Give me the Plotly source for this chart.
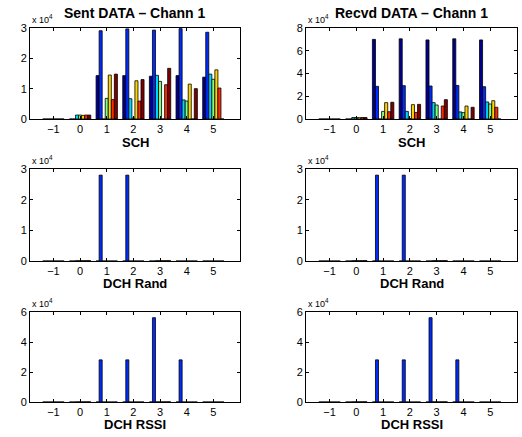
import plotly.graph_objects as go

# ---------------- data ----------------
groups = [-1, 0, 1, 2, 3, 4, 5]
tick_labels_x = ["\u22121", "0", "1", "2", "3", "4", "5"]

# seven series per panel (values in units of 1e4)
sent_sch = [
    [0, 0, 1.43, 1.43, 1.41, 1.43, 1.38],   # series 1
    [0, 0, 2.91, 2.97, 2.93, 2.98, 2.86],   # series 2
    [0, 0.13, 0, 0.67, 1.44, 0.63, 1.48],   # series 3
    [0, 0.13, 0.68, 0.03, 1.24, 0.59, 1.31],# series 4
    [0, 0.12, 1.45, 1.26, 0, 1.15, 1.62],   # series 5
    [0, 0.13, 0.64, 0.59, 1.13, 0, 1.02],   # series 6
    [0, 0.13, 1.48, 1.30, 1.67, 1.00, 0],   # series 7
]
recvd_sch = [
    [0, 0, 7.00, 7.05, 6.95, 7.05, 6.95],
    [0, 0, 2.87, 2.93, 2.90, 2.95, 2.84],
    [0, 0.13, 0, 0.67, 1.44, 0.62, 1.50],
    [0, 0.13, 0.67, 0.05, 1.23, 0.56, 1.32],
    [0, 0.12, 1.44, 1.26, 0, 1.14, 1.61],
    [0, 0.13, 0.64, 0.58, 1.14, 0, 1.03],
    [0, 0.13, 1.47, 1.29, 1.70, 1.03, 0],
]
sent_dch_rand = [
    [0, 0, 0, 0, 0, 0, 0],
    [0, 0, 2.80, 2.80, 0, 0, 0],
    [0, 0.01, 0, 0, 0.01, 0, 0],
    [0, 0.01, 0, 0, 0.01, 0, 0],
    [0, 0.01, 0, 0, 0.01, 0, 0],
    [0, 0.01, 0, 0, 0.01, 0, 0],
    [0, 0.01, 0, 0, 0.01, 0, 0],
]
recvd_dch_rand = [
    [0, 0, 0, 0, 0, 0, 0],
    [0, 0, 2.80, 2.80, 0, 0, 0],
    [0, 0.01, 0, 0, 0.01, 0, 0],
    [0, 0.01, 0, 0, 0.01, 0, 0],
    [0, 0.01, 0, 0, 0.01, 0, 0],
    [0, 0.01, 0, 0, 0.01, 0, 0],
    [0, 0.01, 0, 0, 0.01, 0, 0],
]
sent_dch_rssi = [
    [0, 0, 0, 0, 0, 0, 0],
    [0, 0, 2.81, 2.81, 5.62, 2.81, 0],
    [0, 0.01, 0, 0, 0.01, 0, 0],
    [0, 0.01, 0, 0, 0.01, 0, 0],
    [0, 0.01, 0, 0, 0.01, 0, 0],
    [0, 0.01, 0, 0, 0.01, 0, 0],
    [0, 0.01, 0, 0, 0.01, 0, 0],
]
recvd_dch_rssi = [
    [0, 0, 0, 0, 0, 0, 0],
    [0, 0, 2.81, 2.81, 5.62, 2.81, 0],
    [0, 0.01, 0, 0, 0.01, 0, 0],
    [0, 0.01, 0, 0, 0.01, 0, 0],
    [0, 0.01, 0, 0, 0.01, 0, 0],
    [0, 0.01, 0, 0, 0.01, 0, 0],
    [0, 0.01, 0, 0, 0.01, 0, 0],
]
scale = 1e4

series_colors = ["#000090", "#002bff", "#00d4ff", "#80ff80",
                 "#ffd400", "#ff2b00", "#800000"]

panel_titles = ["Sent DATA \u2013 Chann 1", "Recvd DATA \u2013 Chann 1"]
row_xlabels = ["SCH", "DCH Rand", "DCH RSSI"]
row_ymax = [[3, 8], [3, 3], [6, 6]]
row_yticks = [[[0, 1, 2, 3], [0, 2, 4, 6, 8]],
              [[0, 1, 2, 3], [0, 1, 2, 3]],
              [[0, 2, 4, 6], [0, 2, 4, 6]]]
panels = [[sent_sch, recvd_sch],
          [sent_dch_rand, recvd_dch_rand],
          [sent_dch_rssi, recvd_dch_rssi]]

# ---------------- layout geometry (pixels) ----------------
W, H = 522, 437
col_px = [(30, 240), (306, 517)]
row_px = [(28, 119), (169, 261), (312, 402)]
xlabel_px = [143, 283, 424]

FONT = "Liberation Sans, Arial, Helvetica, sans-serif"

fig = go.Figure()
annotations = []
layout_axes = {}

k = 0
for r in range(3):
    for c in range(2):
        k += 1
        xa = "x" if k == 1 else f"x{k}"
        ya = "y" if k == 1 else f"y{k}"
        data = panels[r][c]
        for s in range(7):
            fig.add_trace(go.Bar(
                x=groups, y=[v * scale for v in data[s]],
                xaxis=xa, yaxis=ya,
                marker=dict(color=series_colors[s],
                            line=dict(color="black", width=0.8)),
                showlegend=False, hoverinfo="skip"))
        x0, x1 = col_px[c]
        y0, y1 = row_px[r]
        xkey = "xaxis" if k == 1 else f"xaxis{k}"
        ykey = "yaxis" if k == 1 else f"yaxis{k}"
        layout_axes[xkey] = dict(
            domain=[x0 / W, x1 / W], anchor=ya, range=[-1.88, 6.0],
            tickvals=groups, ticktext=tick_labels_x, automargin=False,
            ticks="inside", ticklen=3, tickcolor="black",
            showline=True, linecolor="black", linewidth=1, mirror="ticks",
            showgrid=False, zeroline=False,
            tickfont=dict(family=FONT, size=11, color="black"))
        yt = row_yticks[r][c]
        layout_axes[ykey] = dict(
            domain=[1 - y1 / H, 1 - y0 / H], anchor=xa,
            range=[0, row_ymax[r][c] * scale], automargin=False,
            tickvals=[t * scale for t in yt], ticktext=[str(t) for t in yt],
            ticks="inside", ticklen=3, tickcolor="black",
            showline=True, linecolor="black", linewidth=1, mirror="ticks",
            showgrid=False, zeroline=False,
            tickfont=dict(family=FONT, size=11, color="black"))
        # exponent label
        annotations.append(dict(
            x=x0 / W, y=1 - (y0 - 9) / H, xref="paper", yref="paper",
            xanchor="left", yanchor="middle", showarrow=False,
            text="x 10<sup>4</sup>",
            font=dict(family=FONT, size=9, color="black")))
        # x label
        annotations.append(dict(
            x=(x0 + x1) / 2 / W, y=1 - xlabel_px[r] / H,
            xref="paper", yref="paper", xanchor="center", yanchor="middle",
            showarrow=False, text=f"<b>{row_xlabels[r]}</b>",
            font=dict(family=FONT, size=13, color="black")))
        if r == 0:
            annotations.append(dict(
                x=(x0 + x1) / 2 / W, y=1 - 13 / H,
                xref="paper", yref="paper", xanchor="center",
                yanchor="middle", showarrow=False,
                text=f"<b>{panel_titles[c]}</b>",
                font=dict(family=FONT, size=14, color="black")))

fig.update_layout(
    width=W, height=H, margin=dict(l=0, r=0, t=0, b=0),
    paper_bgcolor="white", plot_bgcolor="white",
    barmode="group", bargap=0.2, bargroupgap=0,
    annotations=annotations, **layout_axes)

fig.write_html("out.html", config={"displayModeBar": False},
               post_script="document.body.style.margin='0px';")
